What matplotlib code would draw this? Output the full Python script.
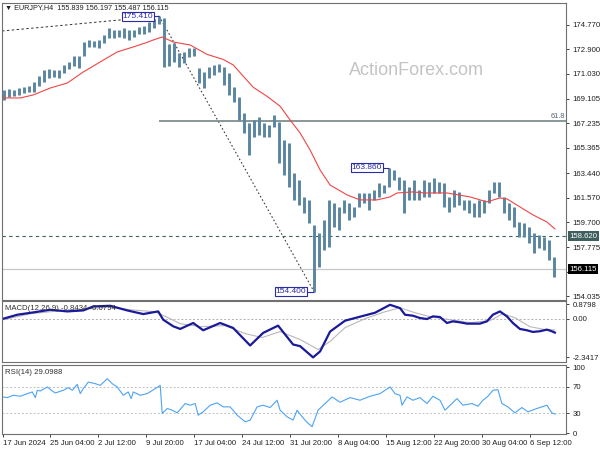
import numpy as np
import matplotlib.pyplot as plt
import matplotlib.transforms as mtransforms

plt.rcParams['font.family'] = ['Liberation Sans', 'DejaVu Sans']

# EURJPY H4 - barres regroupées (plus haut / plus bas)
highs = [169.79, 169.87, 169.79, 169.94, 170.02, 170.10, 170.40, 170.86, 171.32, 171.39,
         171.32, 171.32, 171.70, 171.93, 172.38, 172.38, 173.45, 173.60, 173.53, 173.60,
         173.98, 174.52, 174.37, 174.37, 174.52, 174.37, 174.37, 174.59, 174.67, 174.98,
         175.20, 175.41, 175.28, 173.30, 173.37, 172.61, 172.69, 172.99, 172.99, 171.47,
         171.16, 171.54, 171.70, 171.77, 171.54, 171.09, 170.02, 169.26, 168.04, 167.27,
         167.50, 167.73, 167.27, 167.12, 167.88, 167.35, 165.98, 165.75, 163.46, 162.93,
         161.63, 161.40, 159.49, 158.88, 159.88, 161.40, 161.17, 160.87, 161.40, 161.17,
         160.87, 161.93, 161.93, 161.93, 162.16, 162.70, 162.54, 163.86, 163.69, 163.15,
         162.93, 162.39, 162.93, 162.16, 162.93, 162.77, 163.08, 162.77, 162.70, 161.63,
         162.16, 162.01, 161.40, 161.40, 161.17, 161.40, 161.40, 162.16, 162.77, 162.77,
         161.63, 161.17, 160.87, 159.72, 159.65, 159.34, 158.88, 158.73, 158.58, 158.35,
         157.05]
lows = [169.03, 169.26, 169.33, 169.41, 169.56, 169.64, 169.64, 170.10, 170.40, 170.70,
        170.78, 170.70, 171.09, 171.39, 171.62, 171.47, 172.38, 173.07, 173.07, 172.99,
        173.37, 173.76, 173.76, 173.83, 173.76, 173.60, 173.83, 174.06, 174.06, 174.21,
        174.52, 174.82, 171.54, 171.62, 171.93, 171.54, 171.85, 172.31, 172.38, 170.32,
        169.94, 170.70, 170.93, 171.16, 170.17, 169.41, 168.87, 167.50, 166.51, 164.83,
        166.21, 166.36, 166.21, 166.21, 166.97, 164.22, 163.31, 162.39, 161.40, 161.02,
        160.41, 159.65, 154.40, 156.29, 157.59, 157.82, 159.34, 159.11, 160.41, 159.88,
        160.10, 160.87, 161.17, 160.64, 161.40, 161.63, 161.93, 162.39, 162.93, 162.16,
        160.41, 161.40, 161.40, 161.40, 161.63, 161.63, 161.93, 161.93, 160.87, 160.49,
        160.87, 161.02, 160.64, 160.41, 160.10, 160.10, 160.41, 161.17, 161.93, 161.63,
        160.41, 159.88, 159.34, 158.58, 158.58, 158.12, 157.36, 157.74, 157.59, 156.82,
        155.53]
last_close = 156.115

# moyenne mobile (rouge)
ma_idx = [-0.2, 3.2, 5.8, 9.2, 12.6, 15.8, 19.2, 22.6, 25.8, 28.2, 29.8, 31.6, 33.8,
          37.2, 40.6, 43.8, 45.8, 47.8, 49.8, 52.6, 55.2, 57.2, 59.2, 61.2, 63.2, 65.2,
          68.6, 71.2, 74.6, 77.2, 78.6, 81.8, 84.2, 88.6, 93.2, 96.6, 99.2, 100.6, 103.2,
          105.8, 108.6, 110.2]
ma_vals = [169.18, 169.18, 169.41, 169.94, 170.32, 171.16, 171.93, 172.69, 173.07, 173.37,
           173.60, 173.83, 173.45, 173.22, 172.50, 172.12, 171.70, 170.85, 170.00, 169.30,
           168.55, 167.50, 166.51, 165.21, 163.69, 162.54, 161.78, 161.40, 161.40, 161.63,
           161.93, 162.01, 161.93, 161.93, 161.63, 161.25, 161.55, 161.48, 160.87, 160.26,
           159.72, 159.19]

# MACD(12,26,9)
macd_idx = [-0.2, 2.6, 5.8, 9.2, 12.6, 15.8, 17.8, 21.2, 24.6, 27.8, 30.8, 31.8, 33.8,
            35.2, 37.8, 39.8, 43.2, 45.8, 49.2, 51.8, 54.8, 57.8, 59.2, 61.8, 63.2, 65.2,
            68.2, 71.2, 74.2, 77.2, 79.2, 80.2, 81.8, 83.2, 84.6, 85.8, 87.2, 88.6, 89.8,
            91.2, 92.6, 95.2, 96.6, 97.8, 99.2, 100.6, 101.8, 103.2, 104.6, 105.8, 107.2,
            108.6, 109.6, 110.2]
macd_vals = [0.00, 0.24, 0.38, 0.54, 0.44, 0.50, 0.74, 0.78, 0.50, 0.28, 0.44, -0.06, -0.46,
             -0.62, -0.26, -0.70, -0.26, -0.56, -1.62, -0.86, -0.42, -1.56, -1.66, -2.34,
             -1.98, -0.78, -0.12, 0.12, 0.36, 0.84, 0.64, 0.24, 0.18, 0.04, -0.02, 0.14,
             0.10, -0.26, -0.16, -0.22, -0.30, -0.30, -0.16, 0.24, 0.44, 0.14, -0.26, -0.62,
             -0.70, -0.80, -0.76, -0.66, -0.76, -0.84]
signal_idx = [-0.2, 5.2, 11.2, 17.2, 21.2, 25.2, 30.2, 32.8, 35.2, 39.2, 44.2, 48.2, 51.6,
              55.2, 59.2, 62.8, 65.2, 68.2, 72.2, 76.2, 79.2, 82.2, 85.2, 89.2, 93.2, 97.2,
              99.8, 102.2, 105.2, 108.2, 110.2]
signal_vals = [-0.06, 0.30, 0.48, 0.60, 0.72, 0.54, 0.42, 0.06, -0.30, -0.48, -0.42, -0.90,
               -1.14, -0.78, -1.26, -1.86, -1.38, -0.54, 0.00, 0.42, 0.66, 0.36, 0.12, -0.06,
               -0.24, -0.12, 0.30, 0.06, -0.48, -0.66, -0.68]

# RSI(14)
rsi_idx = [-0.4, 0.6, 1.8, 3.2, 4.6, 5.6, 6.2, 6.6, 7.2, 8.6, 9.6, 10.2, 11.8, 12.8, 13.6,
           14.6, 15.2, 15.8, 16.8, 18.2, 19.2, 20.6, 21.6, 22.6, 23.8, 24.8, 25.4, 25.8,
           27.2, 28.6, 30.2, 31.2, 31.6, 32.6, 33.6, 34.6, 36.2, 37.2, 38.2, 38.8, 39.8,
           41.2, 42.6, 43.8, 45.2, 46.6, 48.2, 49.2, 50.6, 51.8, 53.2, 54.6, 55.2, 56.6,
           57.8, 58.6, 59.2, 60.4, 61.6, 62.8, 64.2, 65.6, 67.2, 69.2, 71.2, 73.2, 75.2,
           77.2, 78.2, 79.2, 79.6, 80.6, 81.8, 83.2, 84.6, 85.8, 87.2, 88.2, 89.6, 90.6,
           91.8, 93.6, 94.8, 95.8, 96.8, 97.8, 98.8, 99.6, 100.8, 102.2, 103.6, 104.8,
           106.6, 108.6, 109.6, 110.2]
rsi_vals = [55, 54, 57.5, 56, 60, 62.5, 54, 65, 64, 70, 64, 61, 65, 69, 65,
            74, 60, 67.5, 77.5, 75, 72.5, 82.5, 75, 70, 57.5, 62.5, 52.5, 62.5,
            57.5, 60, 67.5, 72.5, 30, 37.5, 35, 31, 45, 42.5, 45, 27.5, 32.5,
            42.5, 46, 40, 40, 27.5, 17.5, 20, 40, 42.5, 39, 50, 35, 25,
            20, 35, 29, 18, 10, 35, 45, 55, 47, 54, 50, 56, 60,
            70, 60, 57.5, 42.5, 55, 50, 54, 45, 56, 50, 35, 45, 52.5,
            42.5, 45, 41, 50, 56, 65, 66, 45, 40, 31, 39, 32.5,
            37.5, 42.5, 31, 29.1]

price_ticks = [174.770, 172.900, 171.030, 169.105, 167.235, 165.365, 163.440,
               161.570, 159.700, 157.775, 155.905, 154.035]
time_labels = ["17 Jun 2024", "25 Jun 04:00", "2 Jul 12:00", "9 Jul 20:00",
               "17 Jul 04:00", "24 Jul 12:00", "31 Jul 20:00", "8 Aug 04:00",
               "15 Aug 12:00", "22 Aug 20:00", "30 Aug 04:00", "6 Sep 12:00"]

swing_high = 175.410
swing_low = 154.400
rebound_high = 163.860
support = 158.620
trend_start = 174.29

bar_col = '#5A86A2'
frame_col = '#707070'
fs = 5.6

fig = plt.figure(figsize=(6, 4.5), dpi=100)
ax = fig.add_axes([0.0035, 0.3335, 0.94, 0.6600])
ax_m = fig.add_axes([0.0035, 0.1955, 0.94, 0.1360])
ax_r = fig.add_axes([0.0035, 0.0355, 0.94, 0.1525])

x = np.arange(len(highs))
xlim = (-0.45, 112.45)
ihigh = int(np.argmax(highs))
ilow = int(np.argmin(lows))
irebound = int(np.argmax(highs[ilow:])) + ilow

# --- prix ---
ax.vlines(x, lows, highs, color=bar_col, lw=2.1, zorder=3)
ax.plot(ma_idx, ma_vals, color='#F04545', lw=0.8, zorder=4)

ax.plot([xlim[0], ihigh], [trend_start, swing_high], ls=(0, (2.5, 2.5)), color='#303030', lw=0.7)
ax.plot([ihigh, ilow], [swing_high, swing_low], ls=(0, (1.5, 2.0)), color='#404040', lw=0.8)

fib = swing_low + 0.618 * (swing_high - swing_low)
ax.hlines(fib, ihigh, xlim[1], color='#7F8F8F', lw=1.3, zorder=2)
ax.text(xlim[1] - 0.3, fib + 0.1, '61.8', fontsize=fs - 0.4, color='#506070', ha='right', va='bottom')
ax.axhline(support, color='#3F6060', lw=0.8, ls=(0, (3, 3)), zorder=2)
ax.axhline(last_close, color='#C8C8C8', lw=0.9, zorder=1)

for i, p, off in [(ihigh, swing_high, 1.2), (ilow, swing_low, 1.6), (irebound, rebound_high, 1.4)]:
    ax.hlines(p, i - off, i, color='#2B2BA8', lw=0.8, zorder=5)
    ax.text(i - off, p, f'{p:.3f}', fontsize=fs + 0.4, color='#2B2BA8', ha='right', va='center',
            zorder=6, bbox=dict(facecolor='white', edgecolor='#2B2BA8', lw=0.8, pad=0.6))

ax.text(0.006, 0.986, '▼ EURJPY,H4  155.839 156.197 155.487 156.115', transform=ax.transAxes,
        fontsize=fs - 0.4, color='#202020', va='center', ha='left')
ax.text(0.734, 0.772, 'ActionForex.com', transform=ax.transAxes, fontsize=13,
        color='#C4C4C4', ha='center', va='center')

ax.set_xlim(*xlim)
ax.set_ylim(153.77, 176.43)
ax.set_yticks(price_ticks)
# le libellé 155.905 est masqué par l'étiquette du dernier prix
ax.set_yticklabels(['' if abs(t - last_close) < 0.5 else f'{t:.3f}' for t in price_ticks])

bt = mtransforms.blended_transform_factory(ax.transAxes, ax.transData)
ax.text(1.006, support, f'{support:.3f}', transform=bt, fontsize=fs, color='white',
        va='center', ha='left', bbox=dict(facecolor='#3F5F5F', edgecolor='none', pad=1.0), zorder=10)
ax.text(1.006, last_close, f'{last_close:.3f}', transform=bt, fontsize=fs, color='white',
        va='center', ha='left', bbox=dict(facecolor='black', edgecolor='none', pad=1.0), zorder=10)

# --- MACD ---
ax_m.axhline(0, color='#B0B0B0', lw=0.7, ls=(0, (2, 2)))
ax_m.plot(signal_idx, signal_vals, color='#B8B8B8', lw=0.8)
ax_m.plot(macd_idx, macd_vals, color='#1A1A9A', lw=1.6)
ax_m.set_xlim(*xlim)
ax_m.set_ylim(-2.62, 1.08)
ax_m.set_yticks([0.8798, 0.0, -2.3417])
ax_m.set_yticklabels(['0.8798', '0.00', '-2.3417'])
ax_m.text(0.006, 0.87, 'MACD(12,26,9) -0.8434 -0.6794', transform=ax_m.transAxes,
          fontsize=fs, color='#303030', va='center')

# --- RSI ---
for lvl in (70, 30):
    ax_r.axhline(lvl, color='#C0C0C0', lw=0.7, ls=(0, (2, 2)))
ax_r.plot(rsi_idx, rsi_vals, color='#4DA3F5', lw=0.8)
ax_r.set_xlim(*xlim)
ax_r.set_ylim(-1.0, 102.6)
ax_r.set_yticks([100, 70, 30, 0])
ax_r.set_yticklabels(['100', '70', '30', '0'])
ax_r.text(0.006, 0.9, 'RSI(14) 29.0988', transform=ax_r.transAxes,
          fontsize=fs, color='#303030', va='center')

tick_pos = [-0.2] + [9.1 + 9.62 * k for k in range(len(time_labels) - 1)]
ax_r.set_xticks(tick_pos)
ax_r.set_xticklabels(time_labels, ha='left')

for a in (ax, ax_m, ax_r):
    for s in a.spines.values():
        s.set_color(frame_col)
        s.set_linewidth(0.8)
    a.yaxis.tick_right()
    a.tick_params(axis='y', labelsize=fs, length=2.5, width=0.6, pad=2,
                  colors='#202020')
    a.tick_params(axis='x', labelsize=fs, length=2.5, width=0.6, pad=2, colors='#202020')
    if a is not ax_r:
        a.set_xticks([])

fig.savefig('out.png', dpi=100)
